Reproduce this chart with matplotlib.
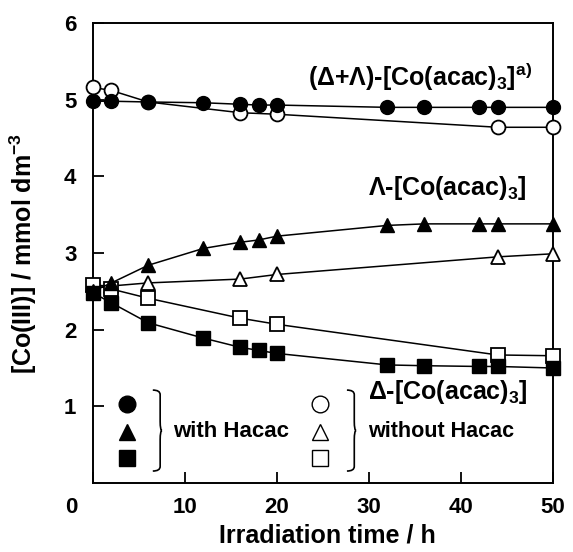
import matplotlib
matplotlib.use("Agg")
import matplotlib.pyplot as plt
from matplotlib.path import Path
from matplotlib.patches import PathPatch
import matplotlib.transforms as mtransforms

plt.rcParams['font.family'] = ['Liberation Sans', 'DejaVu Sans']
plt.rcParams['font.weight'] = 'bold'
plt.rcParams['mathtext.fontset'] = 'custom'
plt.rcParams['mathtext.rm'] = 'Liberation Sans:bold'
plt.rcParams['mathtext.it'] = 'Liberation Sans:bold'
plt.rcParams['mathtext.bf'] = 'Liberation Sans:bold'
plt.rcParams['mathtext.default'] = 'bf'

# ---- data ----
t_with = [0, 2, 6, 12, 16, 18, 20, 32, 36, 42, 44, 50]
total_with = [4.98, 4.98, 4.97, 4.96, 4.94, 4.93, 4.93, 4.90, 4.90, 4.90, 4.90, 4.90]
lambda_with = [2.50, 2.61, 2.84, 3.06, 3.14, 3.17, 3.22, 3.36, 3.38, 3.38, 3.38, 3.38]
delta_with = [2.48, 2.35, 2.09, 1.89, 1.77, 1.73, 1.69, 1.54, 1.53, 1.52, 1.52, 1.50]

t_without = [0, 2, 6, 16, 20, 44, 50]
total_without = [5.16, 5.12, 4.97, 4.83, 4.81, 4.64, 4.64]
lambda_without = [2.58, 2.57, 2.61, 2.66, 2.72, 2.95, 2.99]
delta_without = [2.58, 2.53, 2.41, 2.15, 2.07, 1.67, 1.66]

xticks = [0, 10, 20, 30, 40, 50]
yticks = [1, 2, 3, 4, 5, 6]

fig = plt.figure(figsize=(5.73, 5.52), dpi=100)
ax = fig.add_axes([0.1623, 0.125, 0.8028, 0.8333])

ms = 10
lw = 1.1
# without Hacac (open) drawn first, then with (filled)
ax.plot(t_without, total_without, '-o', color='black', lw=lw, ms=ms,
        mfc='white', mec='black', mew=1.3, clip_on=False, zorder=3)
ax.plot(t_without, lambda_without, '-^', color='black', lw=lw, ms=ms,
        mfc='white', mec='black', mew=1.3, clip_on=False, zorder=3)
ax.plot(t_without, delta_without, '-s', color='black', lw=lw, ms=ms - 0.5,
        mfc='white', mec='black', mew=1.3, clip_on=False, zorder=3)
ax.plot(t_with, total_with, '-o', color='black', lw=lw, ms=ms,
        mfc='black', mec='black', clip_on=False, zorder=4)
ax.plot(t_with, lambda_with, '-^', color='black', lw=lw, ms=ms,
        mfc='black', mec='black', clip_on=False, zorder=4)
ax.plot(t_with, delta_with, '-s', color='black', lw=lw, ms=ms - 0.5,
        mfc='black', mec='black', clip_on=False, zorder=4)

ax.set_xlim(0, 50)
ax.set_ylim(0, 6)
ax.set_xticks(xticks)
ax.set_yticks(yticks)
ax.tick_params(direction='in', length=8, width=1.3, labelsize=16, pad=10)
ax.tick_params(axis='y', pad=12)
for sp in ax.spines.values():
    sp.set_linewidth(1.4)

# shift the "0" tick label left
lab0 = ax.get_xticklabels()[0]
offset = mtransforms.ScaledTranslation(-22 / 100, 0, fig.dpi_scale_trans)
lab0.set_transform(lab0.get_transform() + offset)
for lab in ax.get_xticklabels() + ax.get_yticklabels():
    lab.set_fontweight('bold')

ax.set_xlabel('Irradiation time / h', fontsize=18, fontweight='bold')
ax.set_ylabel('[Co(III)] / mmol dm$^{-3}$', fontsize=18, fontweight='bold')
ax.xaxis.label.set_verticalalignment('baseline')
ax.xaxis.set_label_coords(0.509, -0.130)
ax.yaxis.set_label_coords(-0.118, 0.50)

# annotations
fs_chem = 18
ax.text(23.4, 5.29, '(Δ+Λ)-[Co(acac)$_3$]$^{a)}$', fontsize=fs_chem, fontweight='bold',
        ha='left', va='center')
ax.text(29.9, 3.85, 'Λ-[Co(acac)$_3$]', fontsize=fs_chem, fontweight='bold',
        ha='left', va='center')
ax.text(29.9, 1.19, 'Δ-[Co(acac)$_3$]', fontsize=fs_chem, fontweight='bold',
        ha='left', va='center')

# legend-like block (axes fraction positions)
fs = 16
leg_y = [0.172, 0.111, 0.054]
leg_markers = ['o', '^', 's']
for yy, mk in zip(leg_y, leg_markers):
    ax.plot([0.074], [yy], marker=mk, ms=12 if mk != 's' else 11, color='black',
            transform=ax.transAxes, clip_on=False)
    ax.plot([0.493], [yy], marker=mk, ms=12 if mk != 's' else 11, mfc='white',
            mec='black', mew=1.0, transform=ax.transAxes, clip_on=False)

ax.text(0.174, 0.111, 'with Hacac', transform=ax.transAxes, fontsize=fs,
        fontweight='bold', ha='left', va='center')
ax.text(0.598, 0.111, 'without Hacac', transform=ax.transAxes, fontsize=15.5,
        fontweight='bold', ha='left', va='center')


def brace(x0, yb, yt, w):
    ym = (yb + yt) / 2
    verts = [(x0, yt), (x0 + w * 0.8, yt), (x0 + w * 0.8, yt - 0.01),
             (x0 + w * 0.8, ym + 0.02),
             (x0 + w * 0.8, ym), (x0 + w, ym), (x0 + w, ym),
             (x0 + w, ym), (x0 + w * 0.8, ym), (x0 + w * 0.8, ym - 0.02),
             (x0 + w * 0.8, yb + 0.01),
             (x0 + w * 0.8, yb), (x0, yb), (x0, yb)]
    codes = [Path.MOVETO, Path.CURVE3, Path.CURVE3,
             Path.LINETO,
             Path.CURVE3, Path.CURVE3, Path.LINETO,
             Path.MOVETO, Path.CURVE3, Path.CURVE3,
             Path.LINETO,
             Path.CURVE3, Path.CURVE3, Path.LINETO]
    p = PathPatch(Path(verts, codes), fill=False, lw=1.2, color='black',
                  transform=ax.transAxes, clip_on=False)
    ax.add_patch(p)


brace(0.130, 0.026, 0.202, 0.020)
brace(0.552, 0.026, 0.202, 0.020)

fig.savefig('out.png', dpi=100)
